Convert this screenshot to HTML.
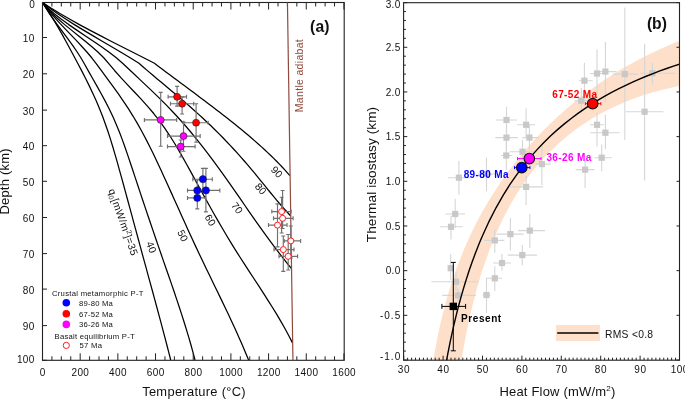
<!DOCTYPE html><html><head><meta charset="utf-8"><style>html,body{margin:0;padding:0;background:#fff}svg{display:block;will-change:transform}</style></head><body>
<svg width="685" height="399" viewBox="0 0 685 399">
<rect width="685" height="399" fill="#fff"/>
<path d="M42.50,2.50 L46.22,8.03 L49.78,13.55 L53.20,19.08 L56.51,24.61 L59.71,30.14 L62.82,35.66 L65.87,41.19 L68.87,46.72 L71.83,52.25 L74.77,57.77 L77.72,63.30 L77.72,63.30 L81.73,70.91 L85.63,78.52 L89.39,86.12 L93.00,93.73 L96.43,101.34 L99.65,108.95 L102.65,116.55 L105.44,124.16 L108.05,131.77 L110.51,139.38 L112.85,146.98 L115.09,154.59 L117.26,162.20 L119.38,169.81 L121.49,177.42 L123.58,185.02 L125.66,192.63 L127.73,200.24 L129.80,207.85 L131.86,215.45 L133.92,223.06 L135.98,230.67 L138.04,238.28 L140.10,245.88 L142.17,253.49 L144.25,261.10 L146.33,268.71 L148.41,276.32 L150.49,283.92 L152.57,291.53 L154.64,299.14 L156.70,306.75 L158.75,314.35 L160.79,321.96 L162.81,329.57 L164.82,337.18 L166.80,344.78 L168.76,352.39 L170.70,360.00" fill="none" stroke="#000" stroke-width="1.25" stroke-linejoin="round"/>
<path d="M42.50,2.50 L45.81,8.03 L49.42,13.55 L53.27,19.08 L57.27,24.61 L61.37,30.14 L65.49,35.66 L69.57,41.19 L73.53,46.72 L77.32,52.25 L80.85,57.77 L84.07,63.30 L84.07,63.30 L88.31,70.91 L92.64,78.52 L96.97,86.12 L101.23,93.73 L105.34,101.34 L109.24,108.95 L112.84,116.55 L116.17,124.16 L119.27,131.77 L122.18,139.38 L124.92,146.98 L127.56,154.59 L130.11,162.20 L132.63,169.81 L135.15,177.42 L137.68,185.02 L140.21,192.63 L142.75,200.24 L145.31,207.85 L147.87,215.45 L150.44,223.06 L153.03,230.67 L155.63,238.28 L158.25,245.88 L160.88,253.49 L163.52,261.10 L166.17,268.71 L168.81,276.32 L171.44,283.92 L174.05,291.53 L176.62,299.14 L179.16,306.75 L181.64,314.35 L184.07,321.96 L186.42,329.57 L188.70,337.18 L190.90,344.78 L193.00,352.39 L195.00,360.00" fill="none" stroke="#000" stroke-width="1.25" stroke-linejoin="round"/>
<path d="M42.50,2.50 L46.62,8.03 L51.16,13.55 L56.02,19.08 L61.12,24.61 L66.37,30.14 L71.68,35.66 L76.96,41.19 L82.12,46.72 L87.08,52.25 L91.74,57.77 L96.02,63.30 L96.02,63.30 L101.62,70.91 L107.23,78.52 L112.78,86.12 L118.23,93.73 L123.49,101.34 L128.53,108.95 L133.29,116.55 L137.77,124.16 L142.02,131.77 L146.06,139.38 L149.93,146.98 L153.66,154.59 L157.28,162.20 L160.82,169.81 L164.32,177.42 L167.79,185.02 L171.23,192.63 L174.66,200.24 L178.09,207.85 L181.52,215.45 L184.96,223.06 L188.42,230.67 L191.91,238.28 L195.44,245.88 L199.02,253.49 L202.65,261.10 L206.31,268.71 L210.00,276.32 L213.69,283.92 L217.39,291.53 L221.07,299.14 L224.73,306.75 L228.35,314.35 L231.92,321.96 L235.43,329.57 L238.86,337.18 L242.21,344.78 L245.46,352.39 L248.60,360.00" fill="none" stroke="#000" stroke-width="1.25" stroke-linejoin="round"/>
<path d="M42.50,2.50 L46.90,8.03 L52.18,13.55 L58.16,19.08 L64.64,24.61 L71.44,30.14 L78.38,35.66 L85.27,41.19 L91.91,46.72 L98.14,52.25 L103.75,57.77 L108.57,63.30 L108.57,63.30 L114.51,70.47 L120.91,77.65 L127.60,84.82 L134.40,92.00 L141.13,99.17 L147.63,106.35 L153.71,113.52 L159.32,120.69 L164.52,127.87 L169.36,135.04 L173.90,142.22 L178.20,149.39 L182.32,156.57 L186.32,163.74 L190.26,170.92 L194.19,178.09 L198.11,185.26 L202.05,192.44 L206.02,199.61 L210.02,206.79 L214.06,213.96 L218.16,221.14 L222.33,228.31 L226.57,235.48 L230.90,242.66 L235.34,249.83 L239.88,257.01 L244.50,264.18 L249.17,271.36 L253.87,278.53 L258.57,285.71 L263.23,292.88 L267.83,300.05 L272.35,307.23 L276.75,314.40 L281.00,321.58 L285.08,328.75 L288.96,335.93 L292.60,343.10" fill="none" stroke="#000" stroke-width="1.25" stroke-linejoin="round"/>
<path d="M42.50,2.50 L47.75,8.03 L54.01,13.55 L61.07,19.08 L68.74,24.61 L76.82,30.14 L85.10,35.66 L93.38,41.19 L101.48,46.72 L109.17,52.25 L116.28,57.77 L122.59,63.30 L122.59,63.30 L128.18,68.57 L133.79,73.83 L139.41,79.10 L145.00,84.37 L150.54,89.63 L156.01,94.90 L161.38,100.17 L166.63,105.43 L171.72,110.70 L176.65,115.97 L181.43,121.23 L186.05,126.50 L190.54,131.77 L194.90,137.03 L199.15,142.30 L203.29,147.57 L207.34,152.83 L211.31,158.10 L215.20,163.37 L219.03,168.63 L222.82,173.90 L226.56,179.17 L230.26,184.43 L233.94,189.70 L237.61,194.97 L241.26,200.23 L244.91,205.50 L248.57,210.77 L252.24,216.03 L255.94,221.30 L259.66,226.57 L263.42,231.83 L267.23,237.10 L271.10,242.37 L275.02,247.63 L279.02,252.90 L283.09,258.17 L287.25,263.43 L291.50,268.70" fill="none" stroke="#000" stroke-width="1.25" stroke-linejoin="round"/>
<path d="M42.50,2.50 L49.61,8.03 L57.36,13.55 L65.66,19.08 L74.39,24.61 L83.46,30.14 L92.76,35.66 L102.18,41.19 L111.62,46.72 L120.97,52.25 L130.12,57.77 L138.98,63.30 L138.98,63.30 L143.47,67.21 L148.02,71.12 L152.62,75.02 L157.26,78.93 L161.93,82.84 L166.60,86.75 L171.27,90.65 L175.92,94.56 L180.54,98.47 L185.11,102.38 L189.62,106.28 L194.05,110.19 L198.39,114.10 L202.65,118.01 L206.82,121.92 L210.91,125.82 L214.91,129.73 L218.84,133.64 L222.69,137.55 L226.47,141.45 L230.17,145.36 L233.81,149.27 L237.37,153.18 L240.87,157.08 L244.30,160.99 L247.67,164.90 L250.98,168.81 L254.23,172.72 L257.44,176.62 L260.62,180.53 L263.78,184.44 L266.94,188.35 L270.12,192.25 L273.34,196.16 L276.61,200.07 L279.94,203.98 L283.36,207.88 L286.87,211.79 L290.50,215.70" fill="none" stroke="#000" stroke-width="1.25" stroke-linejoin="round"/>
<path d="M42.50,2.50 L50.92,8.03 L59.93,13.55 L69.45,19.08 L79.40,24.61 L89.70,30.14 L100.28,35.66 L111.04,41.19 L121.92,46.72 L132.83,52.25 L143.69,57.77 L154.43,63.30 L154.43,63.30 L158.23,66.18 L162.05,69.06 L165.89,71.95 L169.75,74.83 L173.62,77.71 L177.49,80.59 L181.38,83.47 L185.26,86.36 L189.14,89.24 L193.02,92.12 L196.89,95.00 L200.74,97.88 L204.58,100.77 L208.40,103.65 L212.20,106.53 L215.97,109.41 L219.72,112.29 L223.43,115.18 L227.11,118.06 L230.75,120.94 L234.35,123.82 L237.92,126.71 L241.43,129.59 L244.91,132.47 L248.33,135.35 L251.70,138.23 L255.03,141.12 L258.29,144.00 L261.50,146.88 L264.65,149.76 L267.73,152.64 L270.76,155.53 L273.71,158.41 L276.60,161.29 L279.41,164.17 L282.15,167.05 L284.81,169.94 L287.40,172.82 L289.90,175.70" fill="none" stroke="#000" stroke-width="1.25" stroke-linejoin="round"/>
<rect x="42.5" y="2.5" width="301.7" height="357.8" fill="none" stroke="#222" stroke-width="1.1"/>
<path d="M42.50,360.30v-7.0 M42.50,2.50v7.0 M51.92,360.30v-4.0 M51.92,2.50v4.0 M61.34,360.30v-4.0 M61.34,2.50v4.0 M70.76,360.30v-4.0 M70.76,2.50v4.0 M80.18,360.30v-7.0 M80.18,2.50v7.0 M89.60,360.30v-4.0 M89.60,2.50v4.0 M99.02,360.30v-4.0 M99.02,2.50v4.0 M108.44,360.30v-4.0 M108.44,2.50v4.0 M117.86,360.30v-7.0 M117.86,2.50v7.0 M127.28,360.30v-4.0 M127.28,2.50v4.0 M136.70,360.30v-4.0 M136.70,2.50v4.0 M146.12,360.30v-4.0 M146.12,2.50v4.0 M155.54,360.30v-7.0 M155.54,2.50v7.0 M164.96,360.30v-4.0 M164.96,2.50v4.0 M174.38,360.30v-4.0 M174.38,2.50v4.0 M183.80,360.30v-4.0 M183.80,2.50v4.0 M193.22,360.30v-7.0 M193.22,2.50v7.0 M202.64,360.30v-4.0 M202.64,2.50v4.0 M212.06,360.30v-4.0 M212.06,2.50v4.0 M221.48,360.30v-4.0 M221.48,2.50v4.0 M230.90,360.30v-7.0 M230.90,2.50v7.0 M240.32,360.30v-4.0 M240.32,2.50v4.0 M249.74,360.30v-4.0 M249.74,2.50v4.0 M259.16,360.30v-4.0 M259.16,2.50v4.0 M268.58,360.30v-7.0 M268.58,2.50v7.0 M278.00,360.30v-4.0 M278.00,2.50v4.0 M287.42,360.30v-4.0 M287.42,2.50v4.0 M296.84,360.30v-4.0 M296.84,2.50v4.0 M306.26,360.30v-7.0 M306.26,2.50v7.0 M315.68,360.30v-4.0 M315.68,2.50v4.0 M325.10,360.30v-4.0 M325.10,2.50v4.0 M334.52,360.30v-4.0 M334.52,2.50v4.0 M343.94,360.30v-7.0 M343.94,2.50v7.0 M42.50,2.50h4.5 M42.50,37.50h4.5 M42.50,73.80h4.5 M42.50,110.10h4.5 M42.50,145.70h4.5 M42.50,181.30h4.5 M42.50,217.50h4.5 M42.50,253.60h4.5 M42.50,289.10h4.5 M42.50,325.60h4.5 M42.50,360.30h4.5 " stroke="#222" stroke-width="1" fill="none"/>
<line x1="287.45" y1="2.5" x2="292.95" y2="360.3" stroke="#904a3c" stroke-width="1.2"/>
<text x="42.50" y="375.60" font-size="10.00" text-anchor="middle" font-weight="normal" fill="#111" font-family="Liberation Sans, sans-serif" textLength="5.8" lengthAdjust="spacing">0</text>
<text x="80.18" y="375.60" font-size="10.00" text-anchor="middle" font-weight="normal" fill="#111" font-family="Liberation Sans, sans-serif" textLength="17.5" lengthAdjust="spacing">200</text>
<text x="117.86" y="375.60" font-size="10.00" text-anchor="middle" font-weight="normal" fill="#111" font-family="Liberation Sans, sans-serif" textLength="17.5" lengthAdjust="spacing">400</text>
<text x="155.54" y="375.60" font-size="10.00" text-anchor="middle" font-weight="normal" fill="#111" font-family="Liberation Sans, sans-serif" textLength="17.5" lengthAdjust="spacing">600</text>
<text x="193.22" y="375.60" font-size="10.00" text-anchor="middle" font-weight="normal" fill="#111" font-family="Liberation Sans, sans-serif" textLength="17.5" lengthAdjust="spacing">800</text>
<text x="230.90" y="375.60" font-size="10.00" text-anchor="middle" font-weight="normal" fill="#111" font-family="Liberation Sans, sans-serif" textLength="23.4" lengthAdjust="spacing">1000</text>
<text x="268.58" y="375.60" font-size="10.00" text-anchor="middle" font-weight="normal" fill="#111" font-family="Liberation Sans, sans-serif" textLength="23.4" lengthAdjust="spacing">1200</text>
<text x="306.26" y="375.60" font-size="10.00" text-anchor="middle" font-weight="normal" fill="#111" font-family="Liberation Sans, sans-serif" textLength="23.4" lengthAdjust="spacing">1400</text>
<text x="343.94" y="375.60" font-size="10.00" text-anchor="middle" font-weight="normal" fill="#111" font-family="Liberation Sans, sans-serif" textLength="23.4" lengthAdjust="spacing">1600</text>
<text x="34.70" y="7.80" font-size="10.00" text-anchor="end" font-weight="normal" fill="#111" font-family="Liberation Sans, sans-serif" textLength="5.8" lengthAdjust="spacing">0</text>
<text x="34.40" y="42.00" font-size="10.00" text-anchor="end" font-weight="normal" fill="#111" font-family="Liberation Sans, sans-serif" textLength="11.7" lengthAdjust="spacing">10</text>
<text x="34.40" y="78.30" font-size="10.00" text-anchor="end" font-weight="normal" fill="#111" font-family="Liberation Sans, sans-serif" textLength="11.7" lengthAdjust="spacing">20</text>
<text x="34.40" y="114.60" font-size="10.00" text-anchor="end" font-weight="normal" fill="#111" font-family="Liberation Sans, sans-serif" textLength="11.7" lengthAdjust="spacing">30</text>
<text x="34.40" y="150.20" font-size="10.00" text-anchor="end" font-weight="normal" fill="#111" font-family="Liberation Sans, sans-serif" textLength="11.7" lengthAdjust="spacing">40</text>
<text x="34.40" y="185.80" font-size="10.00" text-anchor="end" font-weight="normal" fill="#111" font-family="Liberation Sans, sans-serif" textLength="11.7" lengthAdjust="spacing">50</text>
<text x="34.40" y="222.00" font-size="10.00" text-anchor="end" font-weight="normal" fill="#111" font-family="Liberation Sans, sans-serif" textLength="11.7" lengthAdjust="spacing">60</text>
<text x="34.40" y="258.10" font-size="10.00" text-anchor="end" font-weight="normal" fill="#111" font-family="Liberation Sans, sans-serif" textLength="11.7" lengthAdjust="spacing">70</text>
<text x="34.40" y="293.60" font-size="10.00" text-anchor="end" font-weight="normal" fill="#111" font-family="Liberation Sans, sans-serif" textLength="11.7" lengthAdjust="spacing">80</text>
<text x="34.40" y="330.10" font-size="10.00" text-anchor="end" font-weight="normal" fill="#111" font-family="Liberation Sans, sans-serif" textLength="11.7" lengthAdjust="spacing">90</text>
<text x="34.40" y="362.50" font-size="10.00" text-anchor="end" font-weight="normal" fill="#111" font-family="Liberation Sans, sans-serif" textLength="17.5" lengthAdjust="spacing">100</text>
<text x="274.31" y="174.40" font-size="10.30" text-anchor="middle" font-weight="normal" fill="#111" font-family="Liberation Sans, sans-serif" transform="rotate(46.0 274.31 174.40)">90</text>
<text x="257.94" y="191.12" font-size="10.30" text-anchor="middle" font-weight="normal" fill="#111" font-family="Liberation Sans, sans-serif" transform="rotate(50.0 257.94 191.12)">80</text>
<text x="234.18" y="210.12" font-size="10.30" text-anchor="middle" font-weight="normal" fill="#111" font-family="Liberation Sans, sans-serif" transform="rotate(54.0 234.18 210.12)">70</text>
<text x="207.21" y="221.96" font-size="10.30" text-anchor="middle" font-weight="normal" fill="#111" font-family="Liberation Sans, sans-serif" transform="rotate(59.0 207.21 221.96)">60</text>
<text x="179.46" y="237.18" font-size="10.30" text-anchor="middle" font-weight="normal" fill="#111" font-family="Liberation Sans, sans-serif" transform="rotate(64.0 179.46 237.18)">50</text>
<text x="148.03" y="248.49" font-size="10.30" text-anchor="middle" font-weight="normal" fill="#111" font-family="Liberation Sans, sans-serif" transform="rotate(69.0 148.03 248.49)">40</text>
<text x="119.80" y="223.20" font-size="10.3" text-anchor="middle" fill="#111" font-family="Liberation Sans, sans-serif" transform="rotate(70.5 119.80 223.20)" textLength="70" lengthAdjust="spacing">q<tspan font-size="7" dy="2">0</tspan><tspan dy="-2">[mW/m</tspan><tspan font-size="7" dy="-3.5">2</tspan><tspan dy="3.5">]=35</tspan></text>
<text x="303.20" y="75.70" font-size="10.50" text-anchor="middle" font-weight="normal" fill="#904a3c" font-family="Liberation Sans, sans-serif" transform="rotate(-90.0 303.20 75.70)" textLength="73.0" lengthAdjust="spacing">Mantle adiabat</text>
<text x="310.10" y="31.90" font-size="15.70" text-anchor="start" font-weight="bold" fill="#111" font-family="Liberation Sans, sans-serif" textLength="19.3" lengthAdjust="spacing">(a)</text>
<path d="M168.10,96.80H186.50 M168.10,94.80v4.00 M186.50,94.80v4.00 M177.10,86.40V106.10 M175.10,86.40h4.00 M175.10,106.10h4.00 " stroke="#707070" stroke-width="1.15" fill="none"/>
<path d="M170.50,103.70H193.70 M170.50,101.70v4.00 M193.70,101.70v4.00 M182.10,97.00V114.00 M180.10,97.00h4.00 M180.10,114.00h4.00 " stroke="#707070" stroke-width="1.15" fill="none"/>
<path d="M183.70,122.70H208.20 M183.70,120.70v4.00 M208.20,120.70v4.00 M196.10,103.70V142.20 M194.10,103.70h4.00 M194.10,142.20h4.00 " stroke="#707070" stroke-width="1.15" fill="none"/>
<path d="M144.40,119.90H176.70 M144.40,117.90v4.00 M176.70,117.90v4.00 M160.70,92.40V146.20 M158.70,92.40h4.00 M158.70,146.20h4.00 " stroke="#707070" stroke-width="1.15" fill="none"/>
<path d="M167.50,136.10H200.20 M167.50,134.10v4.00 M200.20,134.10v4.00 M183.50,122.10V151.20 M181.50,122.10h4.00 M181.50,151.20h4.00 " stroke="#707070" stroke-width="1.15" fill="none"/>
<path d="M167.50,146.60H195.10 M167.50,144.60v4.00 M195.10,144.60v4.00 M180.70,140.00V157.00 M178.70,140.00h4.00 M178.70,157.00h4.00 " stroke="#707070" stroke-width="1.15" fill="none"/>
<path d="M192.80,179.20H212.30 M192.80,177.20v4.00 M212.30,177.20v4.00 M202.90,168.30V190.00 M200.90,168.30h4.00 M200.90,190.00h4.00 " stroke="#707070" stroke-width="1.15" fill="none"/>
<path d="M187.50,190.40H205.00 M187.50,188.40v4.00 M205.00,188.40v4.00 M197.30,180.00V200.00 M195.30,180.00h4.00 M195.30,200.00h4.00 " stroke="#707070" stroke-width="1.15" fill="none"/>
<path d="M202.60,190.40H219.80 M202.60,188.40v4.00 M219.80,188.40v4.00 M205.90,168.30V211.90 M203.90,168.30h4.00 M203.90,211.90h4.00 " stroke="#707070" stroke-width="1.15" fill="none"/>
<path d="M187.50,197.90H205.60 M187.50,195.90v4.00 M205.60,195.90v4.00 M197.30,190.00V208.90 M195.30,190.00h4.00 M195.30,208.90h4.00 " stroke="#707070" stroke-width="1.15" fill="none"/>
<path d="M271.80,211.60H291.10 M271.80,209.60v4.00 M291.10,209.60v4.00 M281.60,197.20V233.00 M279.60,197.20h4.00 M279.60,233.00h4.00 " stroke="#707070" stroke-width="1.15" fill="none"/>
<path d="M273.50,218.30H293.10 M273.50,216.30v4.00 M293.10,216.30v4.00 M282.60,190.50V228.50 M280.60,190.50h4.00 M280.60,228.50h4.00 " stroke="#707070" stroke-width="1.15" fill="none"/>
<path d="M268.50,225.10H287.00 M268.50,223.10v4.00 M287.00,223.10v4.00 M277.50,203.80V246.90 M275.50,203.80h4.00 M275.50,246.90h4.00 " stroke="#707070" stroke-width="1.15" fill="none"/>
<path d="M284.20,240.90H300.60 M284.20,238.90v4.00 M300.60,238.90v4.00 M290.80,226.00V258.00 M288.80,226.00h4.00 M288.80,258.00h4.00 " stroke="#707070" stroke-width="1.15" fill="none"/>
<path d="M274.00,249.60H294.00 M274.00,247.60v4.00 M294.00,247.60v4.00 M283.30,236.00V271.40 M281.30,236.00h4.00 M281.30,271.40h4.00 " stroke="#707070" stroke-width="1.15" fill="none"/>
<path d="M279.00,256.30H297.60 M279.00,254.30v4.00 M297.60,254.30v4.00 M288.20,234.50V270.00 M286.20,234.50h4.00 M286.20,270.00h4.00 " stroke="#707070" stroke-width="1.15" fill="none"/>
<circle cx="177.10" cy="96.80" r="3.5" fill="#ff0000" stroke="#222" stroke-width="0.6"/>
<circle cx="182.10" cy="103.70" r="3.5" fill="#ff0000" stroke="#222" stroke-width="0.6"/>
<circle cx="196.10" cy="122.70" r="3.5" fill="#ff0000" stroke="#222" stroke-width="0.6"/>
<circle cx="160.70" cy="119.90" r="3.5" fill="#ff00ff" stroke="#222" stroke-width="0.6"/>
<circle cx="183.50" cy="136.10" r="3.5" fill="#ff00ff" stroke="#222" stroke-width="0.6"/>
<circle cx="180.70" cy="146.60" r="3.5" fill="#ff00ff" stroke="#222" stroke-width="0.6"/>
<circle cx="202.90" cy="179.20" r="3.6" fill="#0000ff" stroke="#222" stroke-width="0.6"/>
<circle cx="197.30" cy="190.40" r="3.6" fill="#0000ff" stroke="#222" stroke-width="0.6"/>
<circle cx="205.90" cy="190.40" r="3.6" fill="#0000ff" stroke="#222" stroke-width="0.6"/>
<circle cx="197.30" cy="197.90" r="3.6" fill="#0000ff" stroke="#222" stroke-width="0.6"/>
<circle cx="281.60" cy="211.60" r="3.0" fill="#fff" stroke="#ff2020" stroke-width="1.0"/>
<circle cx="282.60" cy="218.30" r="3.0" fill="#fff" stroke="#ff2020" stroke-width="1.0"/>
<circle cx="277.50" cy="225.10" r="3.0" fill="#fff" stroke="#ff2020" stroke-width="1.0"/>
<circle cx="290.80" cy="240.90" r="3.0" fill="#fff" stroke="#ff2020" stroke-width="1.0"/>
<circle cx="283.30" cy="249.60" r="3.0" fill="#fff" stroke="#ff2020" stroke-width="1.0"/>
<circle cx="288.20" cy="256.30" r="3.0" fill="#fff" stroke="#ff2020" stroke-width="1.0"/>
<text x="51.90" y="295.60" font-size="7.70" text-anchor="start" font-weight="normal" fill="#111" font-family="Liberation Sans, sans-serif" textLength="91.6" lengthAdjust="spacing">Crustal metamorphic P-T</text>
<circle cx="66.3" cy="302.8" r="3.8" fill="#0000ff"/>
<circle cx="66.3" cy="313.7" r="3.8" fill="#ff0000"/>
<circle cx="66.3" cy="324.4" r="3.8" fill="#ff00ff"/>
<circle cx="66.3" cy="345.4" r="3.1" fill="#fff" stroke="#ff2020" stroke-width="1"/>
<text x="79.00" y="305.70" font-size="7.70" text-anchor="start" font-weight="normal" fill="#111" font-family="Liberation Sans, sans-serif" textLength="33.8" lengthAdjust="spacing">89-80 Ma</text>
<text x="79.00" y="316.60" font-size="7.70" text-anchor="start" font-weight="normal" fill="#111" font-family="Liberation Sans, sans-serif" textLength="33.8" lengthAdjust="spacing">67-52 Ma</text>
<text x="79.00" y="327.30" font-size="7.70" text-anchor="start" font-weight="normal" fill="#111" font-family="Liberation Sans, sans-serif" textLength="33.8" lengthAdjust="spacing">36-26 Ma</text>
<text x="54.60" y="338.60" font-size="7.70" text-anchor="start" font-weight="normal" fill="#111" font-family="Liberation Sans, sans-serif" textLength="80.1" lengthAdjust="spacing">Basalt equilibrium P-T</text>
<text x="79.50" y="348.30" font-size="7.70" text-anchor="start" font-weight="normal" fill="#111" font-family="Liberation Sans, sans-serif" textLength="22.5" lengthAdjust="spacing">57 Ma</text>
<text x="193.90" y="395.80" font-size="12.90" text-anchor="middle" font-weight="normal" fill="#111" font-family="Liberation Sans, sans-serif" textLength="103.5" lengthAdjust="spacing">Temperature (°C)</text>
<text x="8.70" y="181.50" font-size="13.00" text-anchor="middle" font-weight="normal" fill="#111" font-family="Liberation Sans, sans-serif" transform="rotate(-90.0 8.70 181.50)" textLength="66.2" lengthAdjust="spacing">Depth (km)</text>
<clipPath id="cb"><rect x="403.6" y="2.7" width="275.9" height="357.5"/></clipPath>
<path d="M433.08,362.00 L433.11,361.80 L433.21,361.19 L433.37,360.18 L433.60,358.79 L433.89,357.02 L434.25,354.91 L434.67,352.46 L435.16,349.70 L435.71,346.66 L436.33,343.37 L437.01,339.83 L437.76,336.09 L438.57,332.17 L439.45,328.08 L440.39,323.86 L441.40,319.51 L442.47,315.06 L443.61,310.52 L444.81,305.91 L446.08,301.25 L447.41,296.53 L448.81,291.79 L450.27,287.01 L451.79,282.22 L453.39,277.42 L455.04,272.61 L456.77,267.81 L458.55,263.01 L460.41,258.22 L462.32,253.45 L464.30,248.69 L466.35,243.95 L468.46,239.23 L470.64,234.54 L472.88,229.87 L475.19,225.23 L477.56,220.62 L480.00,216.03 L482.50,211.48 L489.32,199.76 L496.14,188.94 L502.96,178.88 L509.78,169.47 L516.60,160.64 L523.42,152.31 L530.24,144.45 L537.06,136.99 L543.88,129.92 L550.70,123.19 L557.52,116.79 L564.34,110.68 L571.16,104.86 L577.98,99.30 L584.80,93.99 L591.62,88.91 L598.44,84.07 L605.26,79.43 L612.09,75.01 L618.91,70.78 L625.73,66.74 L632.55,62.89 L639.37,59.22 L646.19,55.72 L653.01,52.39 L659.83,49.23 L666.65,46.22 L673.47,43.37 L680.29,40.68 L680.29,85.74 L673.47,87.13 L666.65,88.69 L659.83,90.40 L653.01,92.28 L646.19,94.35 L639.37,96.60 L632.55,99.06 L625.73,101.73 L618.91,104.63 L612.09,107.77 L605.26,111.18 L598.44,114.86 L591.62,118.86 L584.80,123.18 L577.98,127.86 L571.16,132.93 L564.34,138.44 L557.52,144.42 L550.70,150.93 L543.88,158.03 L537.06,165.79 L530.24,174.32 L523.42,183.71 L516.60,194.11 L509.78,205.70 L502.96,218.70 L496.14,233.41 L489.32,250.26 L482.50,269.84 L481.42,273.24 L480.37,276.64 L479.35,280.04 L478.35,283.44 L477.38,286.83 L476.44,290.20 L475.53,293.57 L474.65,296.91 L473.79,300.23 L472.97,303.52 L472.17,306.78 L471.40,310.01 L470.65,313.19 L469.94,316.32 L469.25,319.40 L468.59,322.42 L467.96,325.38 L467.36,328.27 L466.78,331.08 L466.24,333.81 L465.72,336.45 L465.23,339.00 L464.76,341.44 L464.33,343.77 L463.92,345.99 L463.54,348.09 L463.19,350.07 L462.87,351.90 L462.58,353.61 L462.31,355.16 L462.07,356.57 L461.86,357.82 L461.68,358.92 L461.52,359.85 L461.40,360.62 L461.30,361.22 L461.23,361.65 L461.19,361.91 L461.17,362.00 Z" fill="#fddfca" clip-path="url(#cb)"/>
<path d="M448.10,177.70H470.00 M448.10,177.70v0.00 M470.00,177.70v0.00 M458.90,160.90V194.70 M458.90,160.90h0.00 M458.90,194.70h0.00 " stroke="#d6d6d6" stroke-width="1.10" fill="none"/>
<path d="M445.20,214.00H465.00 M445.20,214.00v0.00 M465.00,214.00v0.00 M455.20,199.00V228.10 M455.20,199.00h0.00 M455.20,228.10h0.00 " stroke="#d6d6d6" stroke-width="1.10" fill="none"/>
<path d="M439.90,226.80H462.70 M439.90,226.80v0.00 M462.70,226.80v0.00 M451.00,215.80V239.50 M451.00,215.80h0.00 M451.00,239.50h0.00 " stroke="#d6d6d6" stroke-width="1.10" fill="none"/>
<path d="M450.70,254.00V280.00 M450.70,254.00h0.00 M450.70,280.00h0.00 " stroke="#d6d6d6" stroke-width="1.10" fill="none"/>
<path d="M431.40,281.70H478.20 M431.40,281.70v0.00 M478.20,281.70v0.00 M456.00,272.50V291.00 M456.00,272.50h0.00 M456.00,291.00h0.00 " stroke="#d6d6d6" stroke-width="1.10" fill="none"/>
<path d="M442.30,295.40H476.00 M442.30,295.40v0.00 M476.00,295.40v0.00 M458.10,288.30V302.00 M458.10,288.30h0.00 M458.10,302.00h0.00 " stroke="#d6d6d6" stroke-width="1.10" fill="none"/>
<path d="M482.60,295.00H490.50 M482.60,295.00v0.00 M490.50,295.00v0.00 M486.50,277.80V312.90 M486.50,277.80h0.00 M486.50,312.90h0.00 " stroke="#d6d6d6" stroke-width="1.10" fill="none"/>
<path d="M486.30,278.30H502.00 M486.30,278.30v0.00 M502.00,278.30v0.00 M494.80,266.30V291.00 M494.80,266.30h0.00 M494.80,291.00h0.00 " stroke="#d6d6d6" stroke-width="1.10" fill="none"/>
<path d="M484.00,240.40H504.30 M484.00,240.40v0.00 M504.30,240.40v0.00 M494.80,229.20V252.80 M494.80,229.20h0.00 M494.80,252.80h0.00 " stroke="#d6d6d6" stroke-width="1.10" fill="none"/>
<path d="M493.00,263.00H511.00 M493.00,263.00v0.00 M511.00,263.00v0.00 M502.00,254.00V270.80 M502.00,254.00h0.00 M502.00,270.80h0.00 " stroke="#d6d6d6" stroke-width="1.10" fill="none"/>
<path d="M496.40,234.10H523.50 M496.40,234.10v0.00 M523.50,234.10v0.00 M510.40,217.90V250.60 M510.40,217.90h0.00 M510.40,250.60h0.00 " stroke="#d6d6d6" stroke-width="1.10" fill="none"/>
<path d="M507.70,255.10H537.00 M507.70,255.10v0.00 M537.00,255.10v0.00 M522.30,245.00V265.20 M522.30,245.00h0.00 M522.30,265.20h0.00 " stroke="#d6d6d6" stroke-width="1.10" fill="none"/>
<path d="M518.00,230.60H545.00 M518.00,230.60v0.00 M545.00,230.60v0.00 M529.80,214.00V248.00 M529.80,214.00h0.00 M529.80,248.00h0.00 " stroke="#d6d6d6" stroke-width="1.10" fill="none"/>
<path d="M478.00,174.00H495.00 M478.00,174.00v0.00 M495.00,174.00v0.00 M486.50,157.40V191.20 M486.50,157.40h0.00 M486.50,191.20h0.00 " stroke="#d6d6d6" stroke-width="1.10" fill="none"/>
<path d="M501.00,155.50H512.30 M501.00,155.50v0.00 M512.30,155.50v0.00 M506.30,140.00V170.00 M506.30,140.00h0.00 M506.30,170.00h0.00 " stroke="#d6d6d6" stroke-width="1.10" fill="none"/>
<path d="M496.00,120.00H516.80 M496.00,120.00v0.00 M516.80,120.00v0.00 M506.50,106.80V133.00 M506.50,106.80h0.00 M506.50,133.00h0.00 " stroke="#d6d6d6" stroke-width="1.10" fill="none"/>
<path d="M495.30,137.60H517.80 M495.30,137.60v0.00 M517.80,137.60v0.00 M506.50,125.00V150.00 M506.50,125.00h0.00 M506.50,150.00h0.00 " stroke="#d6d6d6" stroke-width="1.10" fill="none"/>
<path d="M517.10,124.80H535.10 M517.10,124.80v0.00 M535.10,124.80v0.00 M526.10,108.30V138.00 M526.10,108.30h0.00 M526.10,138.00h0.00 " stroke="#d6d6d6" stroke-width="1.10" fill="none"/>
<path d="M522.30,137.60H538.90 M522.30,137.60v0.00 M538.90,137.60v0.00 M529.40,125.00V150.00 M529.40,125.00h0.00 M529.40,150.00h0.00 " stroke="#d6d6d6" stroke-width="1.10" fill="none"/>
<path d="M510.00,151.70H537.00 M510.00,151.70v0.00 M537.00,151.70v0.00 M522.50,140.00V164.00 M522.50,140.00h0.00 M522.50,164.00h0.00 " stroke="#d6d6d6" stroke-width="1.10" fill="none"/>
<path d="M535.60,164.10H550.60 M535.60,164.10v0.00 M550.60,164.10v0.00 M541.90,146.00V185.10 M541.90,146.00h0.00 M541.90,185.10h0.00 " stroke="#d6d6d6" stroke-width="1.10" fill="none"/>
<path d="M510.00,186.90H543.10 M510.00,186.90v0.00 M543.10,186.90v0.00 M526.10,176.00V205.00 M526.10,176.00h0.00 M526.10,205.00h0.00 " stroke="#d6d6d6" stroke-width="1.10" fill="none"/>
<path d="M578.90,80.70H592.70 M578.90,80.70v0.00 M592.70,80.70v0.00 M584.40,62.70V99.00 M584.40,62.70h0.00 M584.40,99.00h0.00 " stroke="#d6d6d6" stroke-width="1.10" fill="none"/>
<path d="M590.00,73.50H604.00 M590.00,73.50v0.00 M604.00,73.50v0.00 M597.00,49.40V98.00 M597.00,49.40h0.00 M597.00,98.00h0.00 " stroke="#d6d6d6" stroke-width="1.10" fill="none"/>
<path d="M598.00,71.60H616.50 M598.00,71.60v0.00 M616.50,71.60v0.00 M605.40,42.10V102.00 M605.40,42.10h0.00 M605.40,102.00h0.00 " stroke="#d6d6d6" stroke-width="1.10" fill="none"/>
<path d="M612.80,74.10H637.90 M612.80,74.10v0.00 M637.90,74.10v0.00 M624.80,7.50V139.90 M624.80,7.50h0.00 M624.80,139.90h0.00 " stroke="#d6d6d6" stroke-width="1.10" fill="none"/>
<path d="M640.40,73.20H675.50 M640.40,73.20v0.00 M675.50,73.20v0.00 M652.40,62.70V84.60 M652.40,62.70h0.00 M652.40,84.60h0.00 " stroke="#d6d6d6" stroke-width="1.10" fill="none"/>
<path d="M574.00,100.70H589.00 M574.00,100.70v0.00 M589.00,100.70v0.00 M581.30,88.00V113.00 M581.30,88.00h0.00 M581.30,113.00h0.00 " stroke="#d6d6d6" stroke-width="1.10" fill="none"/>
<path d="M590.00,124.80H604.00 M590.00,124.80v0.00 M604.00,124.80v0.00 M597.00,112.50V146.40 M597.00,112.50h0.00 M597.00,146.40h0.00 " stroke="#d6d6d6" stroke-width="1.10" fill="none"/>
<path d="M590.40,132.70H619.50 M590.40,132.70v0.00 M619.50,132.70v0.00 M605.40,114.80V149.30 M605.40,114.80h0.00 M605.40,149.30h0.00 " stroke="#d6d6d6" stroke-width="1.10" fill="none"/>
<path d="M625.80,111.70H663.40 M625.80,111.70v0.00 M663.40,111.70v0.00 M644.60,43.80V180.60 M644.60,43.80h0.00 M644.60,180.60h0.00 " stroke="#d6d6d6" stroke-width="1.10" fill="none"/>
<path d="M594.50,157.70H611.70 M594.50,157.70v0.00 M611.70,157.70v0.00 M601.70,144.60V171.20 M601.70,144.60h0.00 M601.70,171.20h0.00 " stroke="#d6d6d6" stroke-width="1.10" fill="none"/>
<path d="M575.70,169.60H594.50 M575.70,169.60v0.00 M594.50,169.60v0.00 M585.10,158.70V188.00 M585.10,158.70h0.00 M585.10,188.00h0.00 " stroke="#d6d6d6" stroke-width="1.10" fill="none"/>
<rect x="455.80" y="174.60" width="6.2" height="6.2" fill="#c8c8c8"/>
<rect x="452.10" y="210.90" width="6.2" height="6.2" fill="#c8c8c8"/>
<rect x="447.90" y="223.70" width="6.2" height="6.2" fill="#c8c8c8"/>
<rect x="447.60" y="265.10" width="6.2" height="6.2" fill="#c8c8c8"/>
<rect x="452.90" y="278.60" width="6.2" height="6.2" fill="#c8c8c8"/>
<rect x="455.00" y="292.30" width="6.2" height="6.2" fill="#c8c8c8"/>
<rect x="483.40" y="291.90" width="6.2" height="6.2" fill="#c8c8c8"/>
<rect x="491.70" y="275.20" width="6.2" height="6.2" fill="#c8c8c8"/>
<rect x="491.70" y="237.30" width="6.2" height="6.2" fill="#c8c8c8"/>
<rect x="498.90" y="259.90" width="6.2" height="6.2" fill="#c8c8c8"/>
<rect x="507.30" y="231.00" width="6.2" height="6.2" fill="#c8c8c8"/>
<rect x="519.20" y="252.00" width="6.2" height="6.2" fill="#c8c8c8"/>
<rect x="526.70" y="227.50" width="6.2" height="6.2" fill="#c8c8c8"/>
<rect x="483.40" y="170.90" width="6.2" height="6.2" fill="#c8c8c8"/>
<rect x="503.20" y="152.40" width="6.2" height="6.2" fill="#c8c8c8"/>
<rect x="503.40" y="116.90" width="6.2" height="6.2" fill="#c8c8c8"/>
<rect x="503.40" y="134.50" width="6.2" height="6.2" fill="#c8c8c8"/>
<rect x="523.00" y="121.70" width="6.2" height="6.2" fill="#c8c8c8"/>
<rect x="526.30" y="134.50" width="6.2" height="6.2" fill="#c8c8c8"/>
<rect x="519.40" y="148.60" width="6.2" height="6.2" fill="#c8c8c8"/>
<rect x="538.80" y="161.00" width="6.2" height="6.2" fill="#c8c8c8"/>
<rect x="523.00" y="183.80" width="6.2" height="6.2" fill="#c8c8c8"/>
<rect x="581.30" y="77.60" width="6.2" height="6.2" fill="#c8c8c8"/>
<rect x="593.90" y="70.40" width="6.2" height="6.2" fill="#c8c8c8"/>
<rect x="602.30" y="68.50" width="6.2" height="6.2" fill="#c8c8c8"/>
<rect x="621.70" y="71.00" width="6.2" height="6.2" fill="#c8c8c8"/>
<rect x="649.30" y="70.10" width="6.2" height="6.2" fill="#c8c8c8"/>
<rect x="578.20" y="97.60" width="6.2" height="6.2" fill="#c8c8c8"/>
<rect x="593.90" y="121.70" width="6.2" height="6.2" fill="#c8c8c8"/>
<rect x="602.30" y="129.60" width="6.2" height="6.2" fill="#c8c8c8"/>
<rect x="641.50" y="108.60" width="6.2" height="6.2" fill="#c8c8c8"/>
<rect x="598.60" y="154.60" width="6.2" height="6.2" fill="#c8c8c8"/>
<rect x="582.00" y="166.50" width="6.2" height="6.2" fill="#c8c8c8"/>
<path d="M446.25,362.00 L446.27,361.87 L446.34,361.48 L446.46,360.84 L446.63,359.94 L446.84,358.79 L447.11,357.40 L447.42,355.76 L447.77,353.90 L448.18,351.82 L448.63,349.52 L449.13,347.02 L449.68,344.33 L450.28,341.45 L450.92,338.40 L451.61,335.19 L452.35,331.84 L453.14,328.34 L453.97,324.71 L454.85,320.97 L455.78,317.12 L456.76,313.18 L457.78,309.16 L458.86,305.05 L459.98,300.89 L461.14,296.66 L462.36,292.39 L463.62,288.08 L464.93,283.73 L466.29,279.37 L467.70,274.98 L469.15,270.59 L470.65,266.18 L472.20,261.78 L473.80,257.39 L475.45,253.00 L477.14,248.64 L478.88,244.29 L480.66,239.96 L482.50,235.66 L489.32,220.82 L496.14,207.54 L502.96,195.57 L509.78,184.71 L516.60,174.79 L523.42,165.71 L530.24,157.35 L537.06,149.63 L543.88,142.48 L550.70,135.84 L557.52,129.65 L564.34,123.87 L571.16,118.46 L577.98,113.40 L584.80,108.64 L591.62,104.17 L598.44,99.96 L605.26,95.98 L612.09,92.23 L618.91,88.69 L625.73,85.33 L632.55,82.15 L639.37,79.13 L646.19,76.27 L653.01,73.55 L659.83,70.97 L666.65,68.50 L673.47,66.16 L680.29,63.93" fill="none" stroke="#000" stroke-width="1.4" clip-path="url(#cb)"/>
<rect x="403.6" y="2.7" width="275.9" height="357.5" fill="none" stroke="#222" stroke-width="1.1"/>
<path d="M403.70,360.20v-4.5 M407.64,360.20v-2.5 M411.58,360.20v-2.5 M415.52,360.20v-2.5 M419.46,360.20v-2.5 M423.40,360.20v-2.5 M427.34,360.20v-2.5 M431.28,360.20v-2.5 M435.22,360.20v-2.5 M439.16,360.20v-2.5 M443.10,360.20v-4.5 M447.04,360.20v-2.5 M450.98,360.20v-2.5 M454.92,360.20v-2.5 M458.86,360.20v-2.5 M462.80,360.20v-2.5 M466.74,360.20v-2.5 M470.68,360.20v-2.5 M474.62,360.20v-2.5 M478.56,360.20v-2.5 M482.50,360.20v-4.5 M486.44,360.20v-2.5 M490.38,360.20v-2.5 M494.32,360.20v-2.5 M498.26,360.20v-2.5 M502.20,360.20v-2.5 M506.14,360.20v-2.5 M510.08,360.20v-2.5 M514.02,360.20v-2.5 M517.96,360.20v-2.5 M521.90,360.20v-4.5 M525.84,360.20v-2.5 M529.78,360.20v-2.5 M533.72,360.20v-2.5 M537.66,360.20v-2.5 M541.60,360.20v-2.5 M545.54,360.20v-2.5 M549.48,360.20v-2.5 M553.42,360.20v-2.5 M557.36,360.20v-2.5 M561.30,360.20v-4.5 M565.24,360.20v-2.5 M569.18,360.20v-2.5 M573.12,360.20v-2.5 M577.06,360.20v-2.5 M581.00,360.20v-2.5 M584.94,360.20v-2.5 M588.88,360.20v-2.5 M592.82,360.20v-2.5 M596.76,360.20v-2.5 M600.70,360.20v-4.5 M604.64,360.20v-2.5 M608.58,360.20v-2.5 M612.52,360.20v-2.5 M616.46,360.20v-2.5 M620.40,360.20v-2.5 M624.34,360.20v-2.5 M628.28,360.20v-2.5 M632.22,360.20v-2.5 M636.16,360.20v-2.5 M640.10,360.20v-4.5 M644.04,360.20v-2.5 M647.98,360.20v-2.5 M651.92,360.20v-2.5 M655.86,360.20v-2.5 M659.80,360.20v-2.5 M663.74,360.20v-2.5 M667.68,360.20v-2.5 M671.62,360.20v-2.5 M675.56,360.20v-2.5 M679.50,360.20v-4.5 M403.60,2.60h3.7 M679.50,2.60h-3.0 M403.60,11.54h2.3 M403.60,20.47h2.3 M403.60,29.40h2.3 M403.60,38.34h2.3 M403.60,47.27h3.7 M679.50,47.27h-3.0 M403.60,56.21h2.3 M403.60,65.15h2.3 M403.60,74.08h2.3 M403.60,83.01h2.3 M403.60,91.95h3.7 M679.50,91.95h-3.0 M403.60,100.88h2.3 M403.60,109.82h2.3 M403.60,118.75h2.3 M403.60,127.69h2.3 M403.60,136.62h3.7 M679.50,136.62h-3.0 M403.60,145.56h2.3 M403.60,154.50h2.3 M403.60,163.43h2.3 M403.60,172.37h2.3 M403.60,181.30h3.7 M679.50,181.30h-3.0 M403.60,190.23h2.3 M403.60,199.17h2.3 M403.60,208.11h2.3 M403.60,217.04h2.3 M403.60,225.97h3.7 M679.50,225.97h-3.0 M403.60,234.91h2.3 M403.60,243.84h2.3 M403.60,252.78h2.3 M403.60,261.72h2.3 M403.60,270.65h3.7 M679.50,270.65h-3.0 M403.60,279.59h2.3 M403.60,288.52h2.3 M403.60,297.46h2.3 M403.60,306.39h2.3 M403.60,315.32h3.7 M679.50,315.32h-3.0 M403.60,324.26h2.3 M403.60,333.19h2.3 M403.60,342.13h2.3 M403.60,351.07h2.3 M403.60,360.00h3.7 M679.50,360.00h-3.0 " stroke="#222" stroke-width="1" fill="none"/>
<text x="403.70" y="373.30" font-size="10.00" text-anchor="middle" font-weight="normal" fill="#111" font-family="Liberation Sans, sans-serif" textLength="11.7" lengthAdjust="spacing">30</text>
<text x="443.10" y="373.30" font-size="10.00" text-anchor="middle" font-weight="normal" fill="#111" font-family="Liberation Sans, sans-serif" textLength="11.7" lengthAdjust="spacing">40</text>
<text x="482.50" y="373.30" font-size="10.00" text-anchor="middle" font-weight="normal" fill="#111" font-family="Liberation Sans, sans-serif" textLength="11.7" lengthAdjust="spacing">50</text>
<text x="521.90" y="373.30" font-size="10.00" text-anchor="middle" font-weight="normal" fill="#111" font-family="Liberation Sans, sans-serif" textLength="11.7" lengthAdjust="spacing">60</text>
<text x="561.30" y="373.30" font-size="10.00" text-anchor="middle" font-weight="normal" fill="#111" font-family="Liberation Sans, sans-serif" textLength="11.7" lengthAdjust="spacing">70</text>
<text x="600.70" y="373.30" font-size="10.00" text-anchor="middle" font-weight="normal" fill="#111" font-family="Liberation Sans, sans-serif" textLength="11.7" lengthAdjust="spacing">80</text>
<text x="640.10" y="373.30" font-size="10.00" text-anchor="middle" font-weight="normal" fill="#111" font-family="Liberation Sans, sans-serif" textLength="11.7" lengthAdjust="spacing">90</text>
<text x="679.50" y="373.30" font-size="10.00" text-anchor="middle" font-weight="normal" fill="#111" font-family="Liberation Sans, sans-serif" textLength="17.5" lengthAdjust="spacing">100</text>
<text x="400.20" y="7.50" font-size="10.00" text-anchor="end" font-weight="normal" fill="#111" font-family="Liberation Sans, sans-serif" textLength="14.5" lengthAdjust="spacing">3.0</text>
<text x="400.20" y="50.88" font-size="10.00" text-anchor="end" font-weight="normal" fill="#111" font-family="Liberation Sans, sans-serif" textLength="14.5" lengthAdjust="spacing">2.5</text>
<text x="400.20" y="95.55" font-size="10.00" text-anchor="end" font-weight="normal" fill="#111" font-family="Liberation Sans, sans-serif" textLength="14.5" lengthAdjust="spacing">2.0</text>
<text x="400.20" y="140.22" font-size="10.00" text-anchor="end" font-weight="normal" fill="#111" font-family="Liberation Sans, sans-serif" textLength="14.5" lengthAdjust="spacing">1.5</text>
<text x="400.20" y="184.90" font-size="10.00" text-anchor="end" font-weight="normal" fill="#111" font-family="Liberation Sans, sans-serif" textLength="14.5" lengthAdjust="spacing">1.0</text>
<text x="400.20" y="229.57" font-size="10.00" text-anchor="end" font-weight="normal" fill="#111" font-family="Liberation Sans, sans-serif" textLength="14.5" lengthAdjust="spacing">0.5</text>
<text x="400.20" y="274.25" font-size="10.00" text-anchor="end" font-weight="normal" fill="#111" font-family="Liberation Sans, sans-serif" textLength="14.5" lengthAdjust="spacing">0.0</text>
<text x="400.20" y="318.93" font-size="10.00" text-anchor="end" font-weight="normal" fill="#111" font-family="Liberation Sans, sans-serif" textLength="20.2" lengthAdjust="spacing">-0.5</text>
<text x="400.20" y="360.00" font-size="10.00" text-anchor="end" font-weight="normal" fill="#111" font-family="Liberation Sans, sans-serif" textLength="20.2" lengthAdjust="spacing">-1.0</text>
<path d="M514.50,167.60H529.90 M514.50,166.10v3.00 M529.90,166.10v3.00 " stroke="#0000ff" stroke-width="1.00" fill="none"/>
<path d="M517.50,158.60H541.00 M517.50,157.10v3.00 M541.00,157.10v3.00 " stroke="#ff00ff" stroke-width="1.00" fill="none"/>
<path d="M585.40,103.70H600.80 M585.40,102.20v3.00 M600.80,102.20v3.00 " stroke="#ff0000" stroke-width="1.00" fill="none"/>
<circle cx="521.8" cy="167.6" r="5.3" fill="#0000ff" stroke="#111" stroke-width="1.1"/>
<circle cx="529.3" cy="158.6" r="5.3" fill="#ff00ff" stroke="#111" stroke-width="1.1"/>
<circle cx="592.7" cy="103.7" r="5.3" fill="#ff0000" stroke="#111" stroke-width="1.1"/>
<text x="552.20" y="97.80" font-size="10.00" text-anchor="start" font-weight="bold" fill="#ff0000" font-family="Liberation Sans, sans-serif" textLength="44.9" lengthAdjust="spacing">67-52 Ma</text>
<text x="546.40" y="160.60" font-size="10.00" text-anchor="start" font-weight="bold" fill="#ff00ff" font-family="Liberation Sans, sans-serif" textLength="44.9" lengthAdjust="spacing">36-26 Ma</text>
<text x="463.70" y="177.80" font-size="10.00" text-anchor="start" font-weight="bold" fill="#0000ff" font-family="Liberation Sans, sans-serif" textLength="44.8" lengthAdjust="spacing">89-80 Ma</text>
<path d="M441.90,306.40H465.60 M441.90,303.90v5.00 M465.60,303.90v5.00 M453.30,262.40V350.80 M450.80,262.40h5.00 M450.80,350.80h5.00 " stroke="#000" stroke-width="1.00" fill="none"/>
<rect x="449.6" y="302.7" width="7.4" height="7.4" fill="#000"/>
<text x="461.00" y="321.90" font-size="10.00" text-anchor="start" font-weight="bold" fill="#000" font-family="Liberation Sans, sans-serif" textLength="40.2" lengthAdjust="spacing">Present</text>
<rect x="556.1" y="325" width="43.8" height="16" fill="#fddfca"/>
<line x1="557.2" y1="333" x2="598.4" y2="333" stroke="#000" stroke-width="1.3"/>
<text x="605.00" y="337.50" font-size="10.30" text-anchor="start" font-weight="normal" fill="#111" font-family="Liberation Sans, sans-serif" textLength="48.1" lengthAdjust="spacing">RMS &lt;0.8</text>
<text x="646.90" y="28.70" font-size="15.70" text-anchor="start" font-weight="bold" fill="#111" font-family="Liberation Sans, sans-serif" textLength="20.0" lengthAdjust="spacing">(b)</text>
<text x="499.4" y="395.8" font-size="13" fill="#111" font-family="Liberation Sans, sans-serif" textLength="115.9" lengthAdjust="spacing">Heat Flow (mW/m<tspan font-size="8" dy="-5">2</tspan><tspan dy="5">)</tspan></text>
<text x="376.40" y="174.50" font-size="13.60" text-anchor="middle" font-weight="normal" fill="#111" font-family="Liberation Sans, sans-serif" transform="rotate(-90.0 376.40 174.50)" textLength="135.3" lengthAdjust="spacing">Thermal isostasy (km)</text>
</svg></body></html>
